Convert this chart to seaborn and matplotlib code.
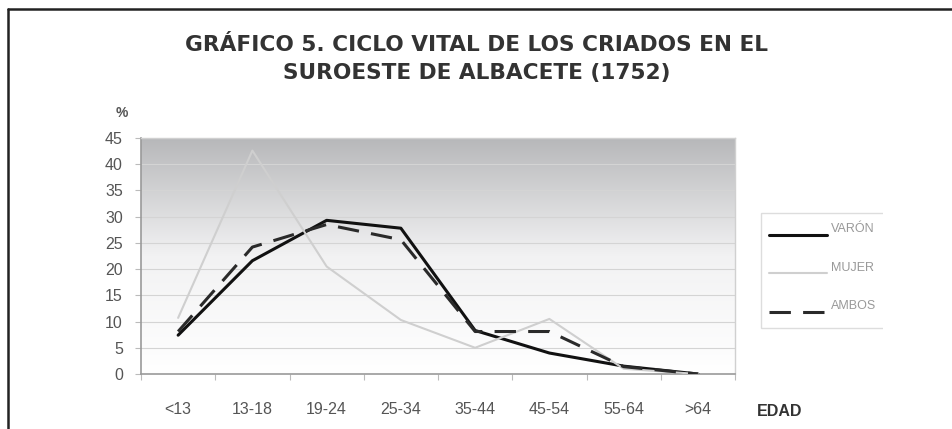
import numpy as np
import pandas as pd
import matplotlib
matplotlib.use("Agg")
import matplotlib.pyplot as plt
from matplotlib.lines import Line2D
from matplotlib.patches import Rectangle
from matplotlib.transforms import ScaledTranslation
import seaborn as sns

# ─── Data ────────────────────────────────────────────────────────────────────
edades = ["<13", "13-18", "19-24", "25-34", "35-44", "45-54", "55-64", ">64"]
varon = [7.4, 21.6, 29.3, 27.8, 8.3, 4.0, 1.5, 0.0]
mujer = [10.7, 42.6, 20.5, 10.3, 5.0, 10.5, 1.0, 0.0]
ambos = [8.1, 24.2, 28.5, 25.6, 8.1, 8.1, 1.4, 0.0]

series = {"VARÓN": varon, "MUJER": mujer, "AMBOS": ambos}
styles = {
    "VARÓN": dict(color="#111111", linewidth=2.2, linestyle="-"),
    "MUJER": dict(color="#cfcfcf", linewidth=1.5, linestyle="-"),
    "AMBOS": dict(color="#2a2a2a", linewidth=2.2, linestyle=(0, (7, 4))),
}

df = pd.DataFrame([
    {"edad": e, "pct": v, "serie": name}
    for name, vals in series.items()
    for e, v in zip(edades, vals)
])

# ─── Style ───────────────────────────────────────────────────────────────────
sns.set_theme(style="white")
plt.rcParams["font.family"] = ["Liberation Sans", "DejaVu Sans"]

fig = plt.figure(figsize=(9.53, 4.29), dpi=100)
ax = fig.add_axes([141 / 953, 1 - 374 / 429, (735 - 141) / 953, (374 - 138) / 429])

# gradient background (dark grey on top -> white at the bottom)
grad = np.linspace(0, 1, 256).reshape(-1, 1)
cmap = matplotlib.colors.LinearSegmentedColormap.from_list("bg", ["#ffffff", "#f2f2f3", "#b7b8ba"])
ax.imshow(grad, cmap=cmap, aspect="auto", origin="lower",
          extent=(-0.5, 7.5, 0, 45), zorder=0)

for name in series:
    sub = df[df["serie"] == name]
    sns.lineplot(data=sub, x="edad", y="pct", ax=ax, sort=False, label=name,
                 zorder=3, **styles[name])

ax.set_xlim(-0.5, 7.5)
ax.set_ylim(0, 45)
ax.set_yticks(range(0, 46, 5))
ax.set_xlabel("")
ax.set_ylabel("")
ax.yaxis.grid(True, color="#d4d4d4", linewidth=0.8, zorder=1)
ax.xaxis.grid(False)

for side in ["left", "bottom"]:
    ax.spines[side].set_color("#9a9a9a")
    ax.spines[side].set_linewidth(1.2)
for side in ["top", "right"]:
    ax.spines[side].set_color("#d0d0d0")
    ax.spines[side].set_linewidth(1.0)

ax.tick_params(axis="y", left=True, length=4, width=0.8, color="#bbbbbb",
               labelsize=11.5, labelcolor="#555555", pad=9)
ax.set_xticks(range(len(edades)))
ax.set_xticklabels(edades)
ax.set_xticks(np.arange(-0.5, 8, 1), minor=True)
ax.tick_params(axis="x", which="major", bottom=False, labelsize=11.5,
               labelcolor="#555555", pad=14)
ax.tick_params(axis="x", which="minor", bottom=True, length=4, width=0.8,
               color="#bbbbbb")

# ─── Texts ───────────────────────────────────────────────────────────────────
fig.text(477 / 953, 1 - 59 / 429,
         "GRÁFICO 5. CICLO VITAL DE LOS CRIADOS EN EL\nSUROESTE DE ALBACETE (1752)",
         ha="center", va="center", fontsize=15.6, fontweight="bold",
         family="DejaVu Sans", color="#333333", linespacing=1.5)
fig.text(122 / 953, 1 - 113 / 429, "%", ha="center", va="center",
         fontsize=10, fontweight="bold", color="#555555")
fig.text(780 / 953, 1 - 412 / 429, "EDAD", ha="center", va="center",
         fontsize=11.5, fontweight="bold", color="#333333")

# ─── Legend (cut off at the right, like the source image) ───────────────────
fig.add_artist(Rectangle((761 / 953, 1 - 328 / 429), 150 / 953, 115 / 429,
                         transform=fig.transFigure, facecolor="white",
                         edgecolor="#dddddd", linewidth=1.0, zorder=-1))
leg = ax.legend(loc="upper left", bbox_to_anchor=(763 / 953, 1 - 224 / 429),
                bbox_transform=fig.transFigure, frameon=False,
                fontsize=9, handlelength=4.6, labelspacing=2.12,
                borderpad=0.5, handletextpad=0.35, borderaxespad=0)
lift = ScaledTranslation(0, 5 / 72, fig.dpi_scale_trans)
for t in leg.get_texts():
    t.set_color("#999999")
    t.set_transform(t.get_transform() + lift)

fig.add_artist(Rectangle((883 / 953, 0.2), 0.2, 0.4, transform=fig.transFigure,
                         facecolor="white", edgecolor="none", zorder=10))

# outer frame (top and left edges)
fig.add_artist(Line2D([8 / 953, 1], [1 - 9 / 429, 1 - 9 / 429],
                      transform=fig.transFigure, color="#222222", linewidth=1.8))
fig.add_artist(Line2D([8 / 953, 8 / 953], [0, 1 - 9 / 429],
                      transform=fig.transFigure, color="#222222", linewidth=1.8))

fig.savefig("out.png", dpi=100, facecolor="white")
